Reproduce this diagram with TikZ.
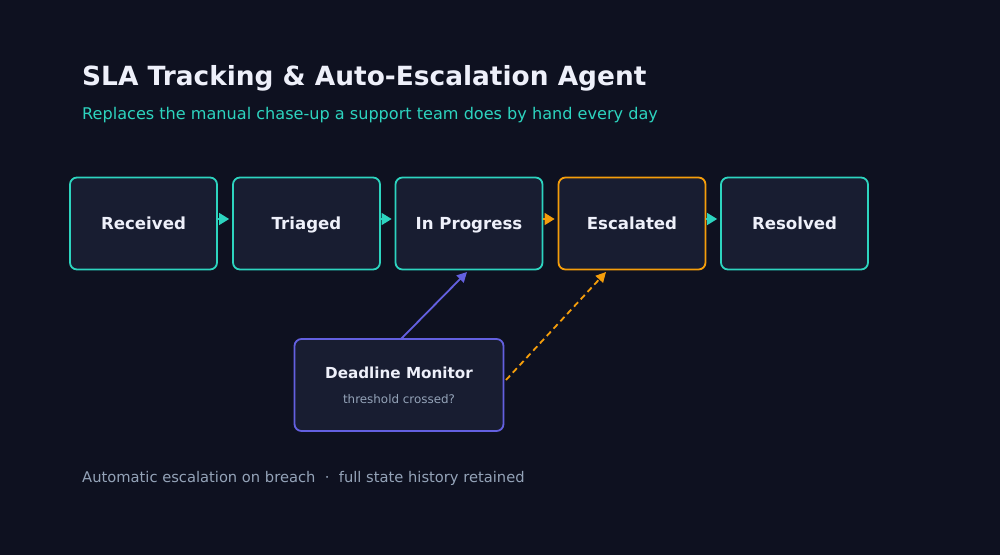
\documentclass[tikz,border=0pt]{standalone}
\usepackage{fontspec}
\setmainfont{DejaVu Sans}
\usetikzlibrary{arrows.meta}
\definecolor{bg}{HTML}{0E1120}
\definecolor{boxfill}{HTML}{181D31}
\definecolor{teal}{HTML}{2DD4BF}
\definecolor{amber}{HTML}{F59E0B}
\definecolor{violet}{HTML}{6360E0}
\definecolor{txt}{HTML}{EEF0FA}
\definecolor{muted}{HTML}{94A3B8}
\tikzset{
  stage/.style={draw=teal, line width=1.8pt, fill=boxfill, rounded corners=7pt,
    minimum width=147pt, minimum height=92pt, inner sep=0pt,
    text height=12pt, text depth=0pt,
    text=txt, font=\fontsize{16.6}{19}\selectfont\bfseries},
  flow/.style={-{Triangle[length=10pt,width=12pt]}, line width=1.5pt},
}
\begin{document}
\begin{tikzpicture}[x=1pt,y=-1pt]
\fill[bg] (0,0) rectangle (1000,555);
\useasboundingbox (0,0) rectangle (1000,555);
\node[anchor=base west, text=txt, font=\fontsize{26.4}{30}\selectfont\bfseries, inner sep=0pt] (title) at (82,85) {SLA Tracking \& Auto-Escalation Agent};
\node[anchor=base west, text=teal, font=\fontsize{16.1}{19}\selectfont, inner sep=0pt] (sub) at (82,119) {Replaces the manual chase-up a support team does by hand every day};

\node[stage] (rec) at (143.5,223.5) {Received};
\node[stage] (tri) at (306.5,223.5) {Triaged};
\node[stage] (inp) at (469,223.5) {In Progress};
\node[stage, draw=amber] (esc) at (632,223.5) {Escalated};
\node[stage] (res) at (794.5,223.5) {Resolved};

\foreach \a/\b/\c in {rec/tri/teal, tri/inp/teal, inp/esc/amber, esc/res/teal}{
  \coordinate (s) at ([yshift=4.5pt]\a.east);
  \coordinate (e) at ([yshift=4.5pt,xshift=-3pt]\b.west);
  \draw[flow, draw=\c, fill=\c] (s) -- (e);
}

\node[draw=violet, line width=1.8pt, fill=boxfill, rounded corners=7pt,
  minimum width=209pt, minimum height=92pt, inner sep=0pt] (mon) at (399,385) {};
\node[text=txt, font=\fontsize{15.2}{18}\selectfont\bfseries, anchor=base] (monT) at (399,378.5) {Deadline Monitor};
\node[text=muted, font=\fontsize{11.9}{14}\selectfont, anchor=base] (monS) at (399,403.5) {threshold crossed?};

\coordinate (p1) at (401,339);
\coordinate (p2) at (467,272);
\draw[-{Triangle[length=10pt,width=10pt]}, violet, line width=1.8pt] (p1) -- (p2);
\coordinate (q1) at (506,380);
\coordinate (q2) at (606,272);
\draw[-{Triangle[length=10pt,width=10pt]}, amber, line width=1.8pt, dash pattern=on 6pt off 4pt] (q1) -- (q2);

\node[anchor=base west, text=muted, font=\fontsize{14.7}{17}\selectfont, inner sep=0pt] (foot) at (82,482) {Automatic escalation on breach \ \textperiodcentered\ \ full state history retained};
\end{tikzpicture}
\end{document}
